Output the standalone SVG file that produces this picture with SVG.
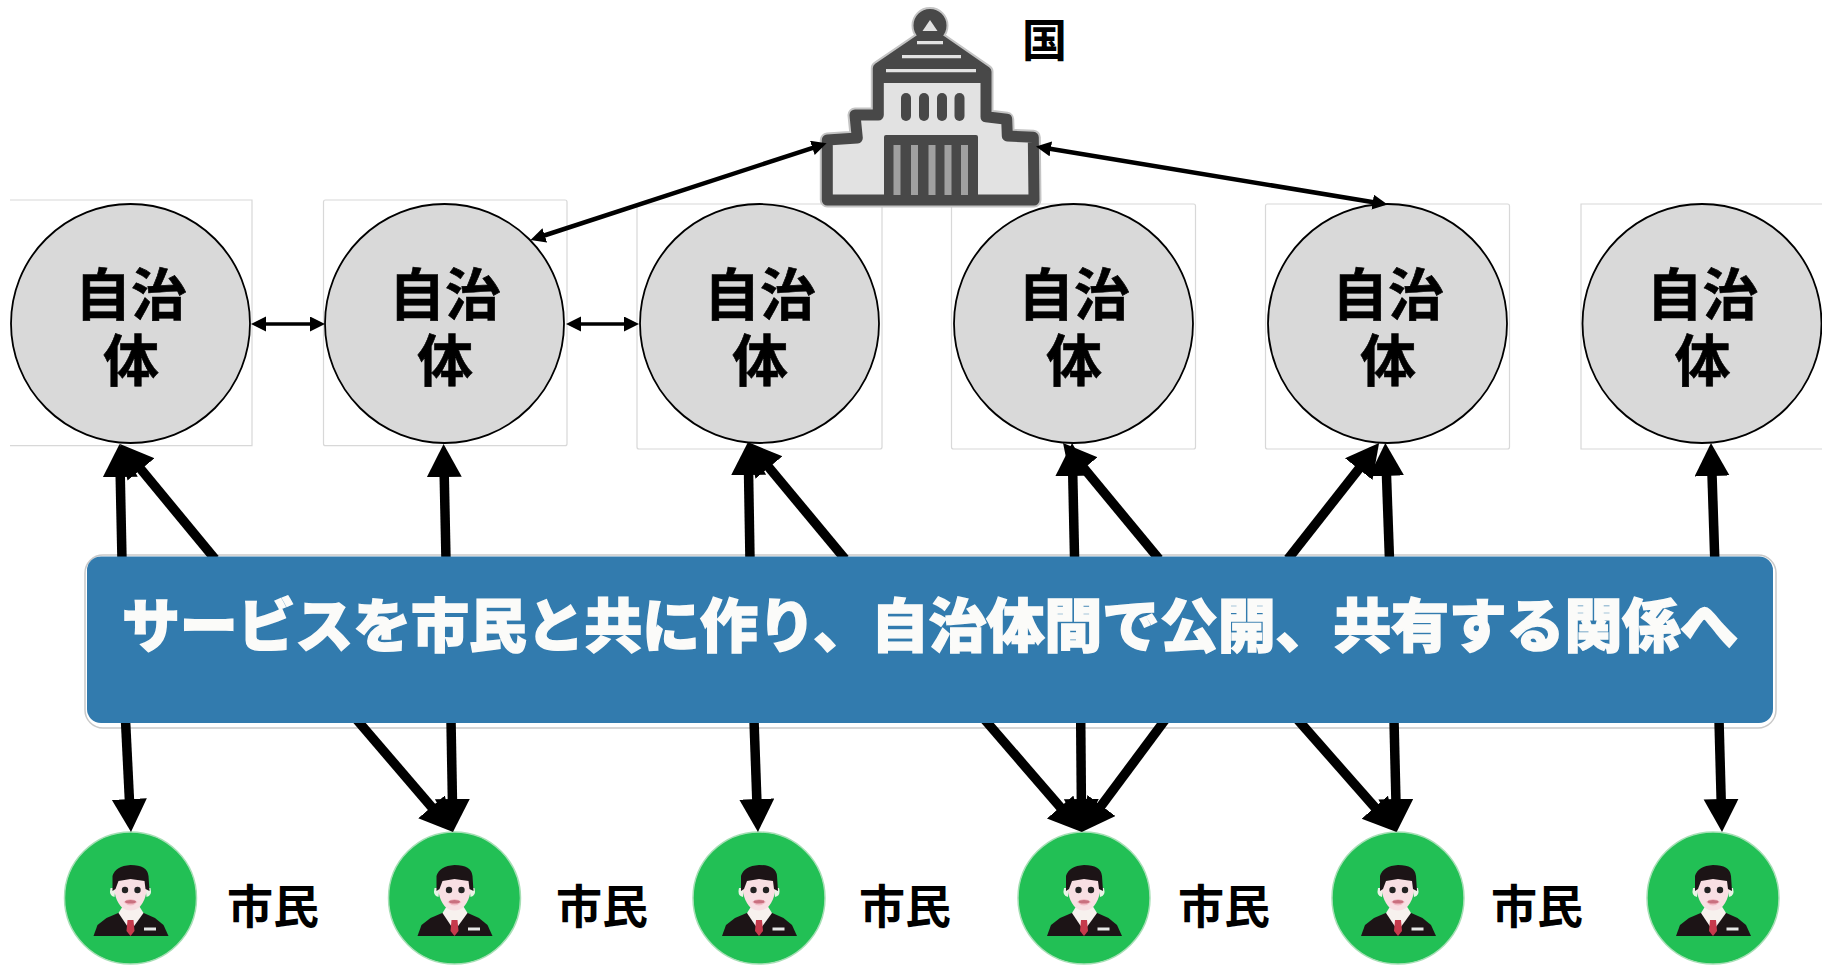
<svg xmlns="http://www.w3.org/2000/svg" width="1822" height="965" viewBox="0 0 1822 965">
<style>
text{font-family:"Noto Sans CJK JP","Liberation Sans",sans-serif;font-weight:700;fill:#000;text-anchor:middle}
.box{fill:#fff;stroke:#d8d8d8;stroke-width:1.2}
.muni{fill:#d9d9d9;stroke:#000;stroke-width:1.800}
.mt{font-size:56px;stroke:#000;stroke-width:.6}
.cit{fill:#22c055;stroke:#a6dfb5;stroke-width:1.5}
.ct{font-size:46px}
.thick{stroke:#000;stroke-width:9.500;fill:none;marker-end:url(#big)}
.thin{stroke:#000;fill:none;marker-start:url(#small);marker-end:url(#small)}
</style>
<defs>
<marker id="big" markerUnits="userSpaceOnUse" markerWidth="34" markerHeight="36" refX="17" refY="17.5" orient="auto"><path d="M0 0L33 17.5L0 35z" fill="#000"/></marker>
<marker id="small" markerUnits="userSpaceOnUse" markerWidth="16" markerHeight="16" refX="7" refY="7.5" orient="auto-start-reverse"><path d="M0 0L15 7.5L0 15z" fill="#000"/></marker>
<g id="person">
<path d="M-37 38L-33 27L-24 20L-10 14H11L24.500 20L33 27L38 38z" fill="#1c1416"/>
<path d="M-12 15L-7 7H8L13 15L0 33z" fill="#f7f1ee"/>
<path d="M-3 22H3L4 33L0 38L-4 33z" fill="#c63a4c"/>
<path d="M-20 -10Q-22 -2 -16 -1L-15 -10zM20 -10Q22 -2 16 -1L15 -10z" fill="#e9f3e6"/>
<path d="M-17 -18Q-17 2 -8 10Q0 15 8 10Q17 2 17 -18L0 -26z" fill="#f8dfe3"/>
<path d="M-7 4Q0 11 7 4Q0 -2 -7 4z" fill="#f3bcc6"/>
<path d="M-18 -7L-18 -22Q-15 -32 0 -33Q17 -33 18 -22L19 -7L15 -9L14 -17L0 -19L-12 -17L-15 -9z" fill="#1c1416"/>
<circle cx="-5.500" cy="-8" r="3.200" fill="#222"/>
<circle cx="7" cy="-8" r="3.200" fill="#222"/>
<ellipse cx="0" cy="3.700" rx="5.500" ry="1.800" fill="#c9707f"/>
<rect x="13.500" y="29.500" width="12" height="3" fill="#e6e6e6"/>
</g>
</defs>
<rect width="1822" height="965" fill="#fff"/>

<g id="muni1"><path class="box" d="M10 200H252V445.700H10"/><circle class="muni" cx="130.500" cy="323.500" r="119.500"/><text class="mt" x="131" y="315">自治<tspan x="131" dy="66">体</tspan></text></g>
<g id="muni2"><rect class="box" x="323.500" y="200" width="243.500" height="245.700" rx="2"/><circle class="muni" cx="444.500" cy="323.500" r="119.500"/><text class="mt" x="445" y="315">自治<tspan x="445" dy="66">体</tspan></text></g>
<g id="muni3"><rect class="box" x="637" y="204" width="245" height="245" rx="2"/><circle class="muni" cx="759.500" cy="323.500" r="119.500"/><text class="mt" x="760" y="315">自治<tspan x="760" dy="66">体</tspan></text></g>
<g id="muni4"><rect class="box" x="951.500" y="204" width="244" height="245" rx="2"/><circle class="muni" cx="1073.500" cy="323.500" r="119.500"/><text class="mt" x="1074" y="315">自治<tspan x="1074" dy="66">体</tspan></text></g>
<g id="muni5"><rect class="box" x="1265.500" y="204" width="244" height="245" rx="2"/><circle class="muni" cx="1387.500" cy="323.500" r="119.500"/><text class="mt" x="1388" y="315">自治<tspan x="1388" dy="66">体</tspan></text></g>
<g id="muni6"><path class="box" d="M1823 204H1581V449H1823"/><circle class="muni" cx="1702" cy="323.500" r="119.500"/><text class="mt" x="1702.500" y="315">自治<tspan x="1702.500" dy="66">体</tspan></text></g>

<g id="capitol">
<path d="M930 33L878.300 68.300V115H855L857.300 138L827.300 140V200H1034L1033.300 137.300L1007.300 136L1006.700 119.300L986 116.700V71.700z" fill="#e2e2e2" stroke="#c4c4c4" stroke-width="15" stroke-linejoin="round"/>
<circle cx="930" cy="25.500" r="17.500" fill="#484848" stroke="#c4c4c4" stroke-width="2"/>
<path d="M930 33L878.300 68.300V115H855L857.300 138L827.300 140V200H1034L1033.300 137.300L1007.300 136L1006.700 119.300L986 116.700V71.700z" fill="#e2e2e2" stroke="#484848" stroke-width="11" stroke-linejoin="round"/>
<path d="M922 28H938V38L991 72V83H874V72L922 38z" fill="#484848"/>
<path d="M922.500 31H937.500L930 20z" fill="#e2e2e2"/>
<path d="M917 42.700H943M902 56.700H961M886 70.700H976" stroke="#e2e2e2" stroke-width="3.200" fill="none"/>
<g fill="#484848"><rect x="901" y="93" width="10" height="28" rx="5"/><rect x="919" y="93" width="10" height="28" rx="5"/><rect x="937" y="93" width="10" height="28" rx="5"/><rect x="954.500" y="93" width="10" height="28" rx="5"/><rect x="884" y="135" width="94" height="70" rx="2"/></g>
<g fill="#a0a0a0"><rect x="893.500" y="145" width="7" height="50"/><rect x="911" y="145" width="7" height="50"/><rect x="928.500" y="145" width="7" height="50"/><rect x="944.500" y="145" width="7" height="50"/><rect x="961" y="145" width="7" height="50"/></g>
<text x="1044.500" y="57" font-size="45">国</text>
</g>

<g id="citizen1"><circle class="cit" cx="130.500" cy="898" r="66"/><use href="#person" x="130.500" y="898"/><text class="ct" x="273" y="923">市民</text></g>
<g id="citizen2"><circle class="cit" cx="454.500" cy="898" r="66"/><use href="#person" x="454.500" y="898"/><text class="ct" x="602" y="923">市民</text></g>
<g id="citizen3"><circle class="cit" cx="759" cy="898" r="66"/><use href="#person" x="759" y="898"/><text class="ct" x="905" y="923">市民</text></g>
<g id="citizen4"><circle class="cit" cx="1084" cy="898" r="66"/><use href="#person" x="1084" y="898"/><text class="ct" x="1224" y="923">市民</text></g>
<g id="citizen5"><circle class="cit" cx="1398" cy="898" r="66"/><use href="#person" x="1398" y="898"/><text class="ct" x="1537" y="923">市民</text></g>
<g id="citizen6"><circle class="cit" cx="1713" cy="898" r="66"/><use href="#person" x="1713" y="898"/></g>

<rect x="85" y="555" width="1691" height="173" rx="18" fill="#fff" stroke="#c9c9c9" stroke-width="1.500"/>

<g id="connectors">
<line class="thick" x1="122" y1="560" x2="119.900" y2="460"/>
<line class="thick" x1="215" y1="559" x2="130.200" y2="456.300"/>
<line class="thick" x1="446" y1="560" x2="443.900" y2="460"/>
<line class="thick" x1="750" y1="560" x2="748.300" y2="458"/>
<line class="thick" x1="845" y1="559" x2="758.100" y2="454.400"/>
<line class="thick" x1="1074.600" y1="560" x2="1072.400" y2="459"/>
<line class="thick" x1="1159" y1="559" x2="1073.200" y2="455.300"/>
<line class="thick" x1="1288" y1="559" x2="1369.200" y2="455.700"/>
<line class="thick" x1="1389.500" y1="560" x2="1385.900" y2="459"/>
<line class="thick" x1="1714.800" y1="560" x2="1711.500" y2="459"/>
<line class="thick" x1="125.500" y1="720" x2="130.200" y2="816"/>
<line class="thick" x1="357" y1="720" x2="442.600" y2="819.800"/>
<line class="thick" x1="451" y1="720" x2="452.700" y2="816"/>
<line class="thick" x1="754" y1="720" x2="757.400" y2="816"/>
<line class="thick" x1="985" y1="720" x2="1071.300" y2="819.900"/>
<line class="thick" x1="1080.700" y1="720" x2="1081.500" y2="816"/>
<line class="thick" x1="1165" y1="720" x2="1091.300" y2="819.200"/>
<line class="thick" x1="1298" y1="720" x2="1386" y2="820"/>
<line class="thick" x1="1394" y1="720" x2="1396.300" y2="816"/>
<line class="thick" x1="1719" y1="720" x2="1721.600" y2="816"/>
<line class="thin" stroke-width="3.500" x1="259" y1="324" x2="317" y2="324"/>
<line class="thin" stroke-width="3.500" x1="574" y1="324" x2="631" y2="324"/>
<line class="thin" stroke-width="4.500" x1="819" y1="145.800" x2="538.100" y2="237.500"/>
<line class="thin" stroke-width="4.500" x1="1043.900" y1="147.800" x2="1379.600" y2="203.200"/>
</g>

<g id="banner">
<rect x="87" y="556.500" width="1686" height="166.500" rx="14" fill="#327bae"/>
<text x="930" y="647" font-size="58" style="fill:#fbfbf9;font-weight:900;stroke:#fbfbf9;stroke-width:1.500" textLength="1616" lengthAdjust="spacing">サービスを市民と共に作り、自治体間で公開、共有する関係へ</text>
</g>
</svg>
